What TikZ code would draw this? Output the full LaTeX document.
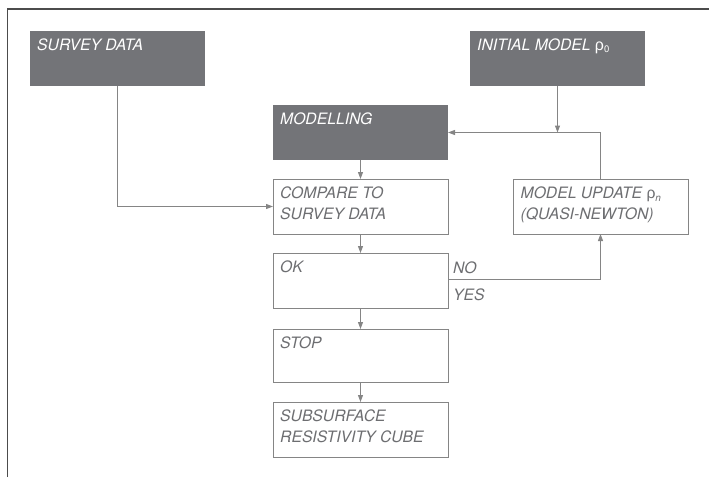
\documentclass[tikz,border=0pt]{standalone}
\usepackage{fontspec}
\setsansfont{TeX Gyre Heros}
\newfontfamily\grkfont{Liberation Sans}
\usetikzlibrary{arrows.meta}
\definecolor{darkfill}{HTML}{737478}
\definecolor{txtgray}{HTML}{6D6E71}
\definecolor{linegray}{HTML}{858585}
\newcommand{\capstrut}{\rule{0pt}{12pt}}
\newcommand{\rhosub}[1]{{\grkfont\upshape\fontsize{16}{16}\selectfont ρ}\raisebox{-2.5pt}{\upshape\fontsize{9.5}{9.5}\selectfont #1}}
\begin{document}
\begin{tikzpicture}[x=1pt,y=-1pt,
  darkbox/.style={draw=none,fill=darkfill,minimum width=175pt,minimum height=55pt,inner sep=0pt,outer sep=0pt},
  whitebox/.style={draw=linegray,line width=1pt,fill=white,minimum width=175pt,minimum height=55pt,inner sep=0pt,outer sep=0pt},
  boxtext/.style={anchor=north west,inner sep=0pt,align=left,font=\sffamily\itshape\fontsize{15.7}{20.5}\selectfont,text=txtgray},
  darktext/.style={boxtext,text=white},
  conn/.style={draw=linegray,line width=1pt},
  arr/.style={conn,-{Triangle[length=7pt,width=5pt]}},
  lbl/.style={anchor=base west,inner sep=0pt,font=\sffamily\itshape\fontsize{15.7}{20.5}\selectfont,text=txtgray}]
\useasboundingbox (0,0) rectangle (709,477);
% frame
\draw[draw=black!70,line width=1.3pt] (7.5,477) -- (7.5,9) -- (709,9);
% boxes
\node[darkbox] (survey) at (117.5,58.5) {};
\node[darkbox] (initial) at (557.5,58.5) {};
\node[darkbox] (modelling) at (360.5,132.5) {};
\node[whitebox] (compare) at (360.5,206.5) {};
\node[whitebox] (ok) at (360.5,280.5) {};
\node[whitebox,minimum height=53pt] (stop) at (360.5,355.5) {};
\node[whitebox] (cube) at (360.5,429.5) {};
\node[whitebox] (update) at (600.5,206.5) {};
% texts
\node[darktext] (survey-t) at ([xshift=7pt,yshift=-7pt]survey.north west) {\capstrut SURVEY DATA};
\node[darktext] (initial-t) at ([xshift=7pt,yshift=-7pt]initial.north west) {\capstrut INITIAL MODEL \rhosub{0}};
\node[darktext] (modelling-t) at ([xshift=7pt,yshift=-7pt]modelling.north west) {\capstrut MODELLING};
\node[boxtext] (compare-t) at ([xshift=7pt,yshift=-7.5pt]compare.north west) {\capstrut COMPARE TO\\SURVEY DATA};
\node[boxtext] (ok-t) at ([xshift=7pt,yshift=-7.5pt]ok.north west) {\capstrut OK};
\node[boxtext] (stop-t) at ([xshift=7pt,yshift=-7.5pt]stop.north west) {\capstrut STOP};
\node[boxtext] (cube-t) at ([xshift=7pt,yshift=-7.5pt]cube.north west) {\capstrut SUBSURFACE\\RESISTIVITY CUBE};
\node[boxtext] (update-t) at ([xshift=7.5pt,yshift=-7.5pt]update.north west) {\capstrut MODEL UPDATE {\grkfont\upshape ρ}\raisebox{-2.5pt}{\fontsize{10}{10}\selectfont\itshape n}\\(QUASI-NEWTON)};
% connectors
\draw[arr] (survey.south) |- (compare.west);
\draw[arr] (update.north) |- (modelling.east);
\draw[arr] (initial.south) -- (initial.south |- modelling.east);
\draw[arr] (modelling.south) -- (compare.north);
\draw[arr] (compare.south) -- (ok.north);
\draw[arr] (ok.south) -- (stop.north);
\draw[arr] (stop.south) -- (cube.north);
\draw[arr] ([yshift=1pt]ok.east) -| (update.south);
\node[lbl] (no) at (453,273) {NO};
\node[lbl] (yes) at (453,300) {YES};
\end{tikzpicture}
\end{document}
